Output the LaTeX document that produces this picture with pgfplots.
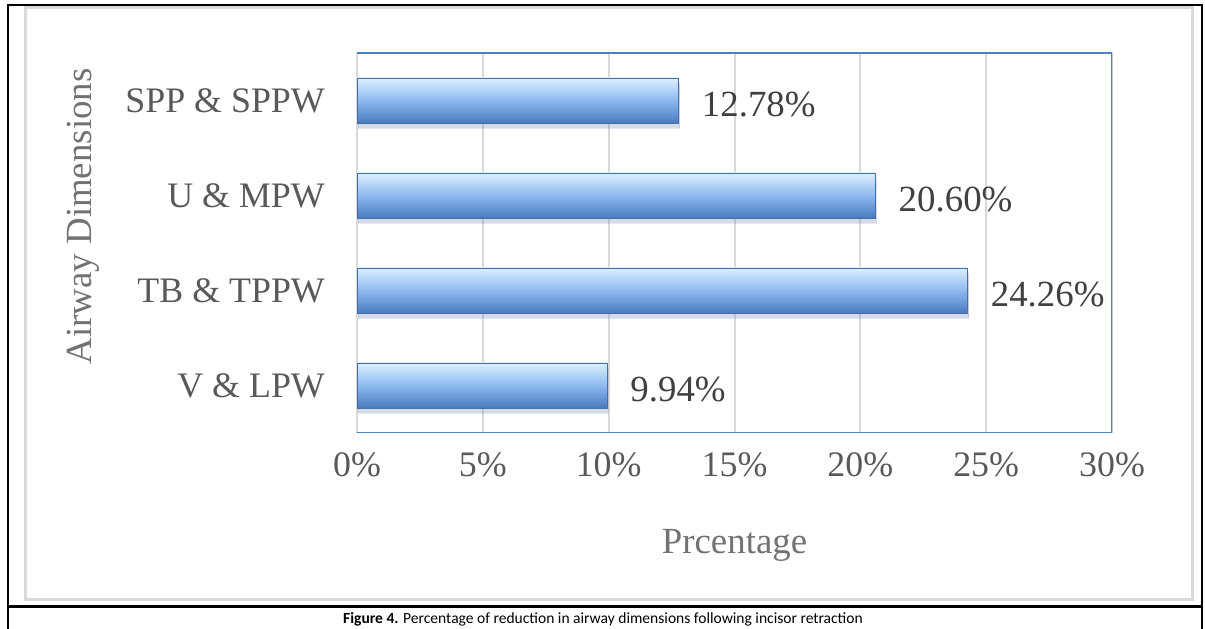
\documentclass[border=0pt]{standalone}
\usepackage{fontspec}
\setmainfont{Liberation Serif}
\newfontfamily\capfont{Carlito}
\usepackage{pgfplots}
\pgfplotsset{compat=1.18}
\usetikzlibrary{shadows}
\definecolor{frameblue}{RGB}{79,129,189}
\definecolor{gridgray}{RGB}{217,217,217}
\definecolor{labgray}{RGB}{89,89,89}
\definecolor{valgray}{RGB}{64,64,64}
\definecolor{bartop}{RGB}{220,240,255}
\definecolor{barmid}{RGB}{141,185,240}
\definecolor{barbot}{RGB}{74,122,190}
\definecolor{baredge}{RGB}{70,110,170}
\begin{document}
\begin{tikzpicture}[x=1bp,y=1bp]
\useasboundingbox (0,0) rectangle (1205,629);
% inner chart box
\draw[line width=3bp, color=gridgray] (25,29) rectangle (1192,621);
% outer frame and caption separator
\draw[line width=2.5bp] (8,-2) -- (8,624) -- (1202,624) -- (1202,-2);
\draw[line width=3bp] (8,22) -- (1202,22);
\node[font=\capfont\fontsize{15.6}{18}\selectfont] at (603,10) {\textbf{Figure 4.} Percentage of reduction in airway dimensions following incisor retraction};
\begin{axis}[
  at={(357bp,196bp)}, anchor=south west,
  scale only axis, width=755bp, height=380bp,
  xmin=0, xmax=30, ymin=-0.5, ymax=3.5,
  xtick={0,5,10,15,20,25,30},
  xticklabels={0\%,5\%,10\%,15\%,20\%,25\%,30\%},
  ytick={0,1,2,3},
  yticklabels={V \& LPW, TB \& TPPW, U \& MPW, SPP \& SPPW},
  major tick length=0pt,
  xmajorgrids, grid style={draw=gridgray, line width=2bp},
  axis line style={draw=none},
  tick label style={font=\fontsize{36}{40}\selectfont, text=labgray, inner sep=0pt},
  yticklabel style={anchor=east, xshift=-32bp},
  xticklabel style={anchor=north, yshift=-19bp},
  xlabel={Prcentage},
  ylabel={Airway Dimensions},
  label style={font=\fontsize{37}{40}\selectfont, text=labgray!85, inner sep=0pt},
  xlabel style={at={(axis description cs:0.5,-0.297)}, anchor=center},
  ylabel style={at={(axis description cs:-0.362,0.57)}, anchor=center, rotate=0},
  mybar/.style={
    xbar, bar width=45bp, bar shift=0pt, mark=none,
    draw=baredge, line width=0.6bp,
    top color=bartop, bottom color=barbot, middle color=barmid,
    drop shadow={shadow xshift=1bp, shadow yshift=-5bp, opacity=0.15},
    point meta=x,
    nodes near coords={\pgfmathprintnumber[fixed,fixed zerofill,precision=2,assume math mode=true]{\pgfplotspointmeta}\%},
    nodes near coords style={anchor=west, inner sep=0pt, xshift=23bp, yshift=-4bp,
      font=\fontsize{37}{40}\selectfont, text=valgray},
  },
]
\addplot[mybar] coordinates {(9.94,0)};
\addplot[mybar] coordinates {(24.26,1)};
\addplot[mybar] coordinates {(20.60,2)};
\addplot[mybar] coordinates {(12.78,3)};
\draw[frameblue, line width=2.5bp] (rel axis cs:0,1) -- (rel axis cs:1,1) -- (rel axis cs:1,0) -- (rel axis cs:0,0);
\end{axis}
\end{tikzpicture}
\end{document}
